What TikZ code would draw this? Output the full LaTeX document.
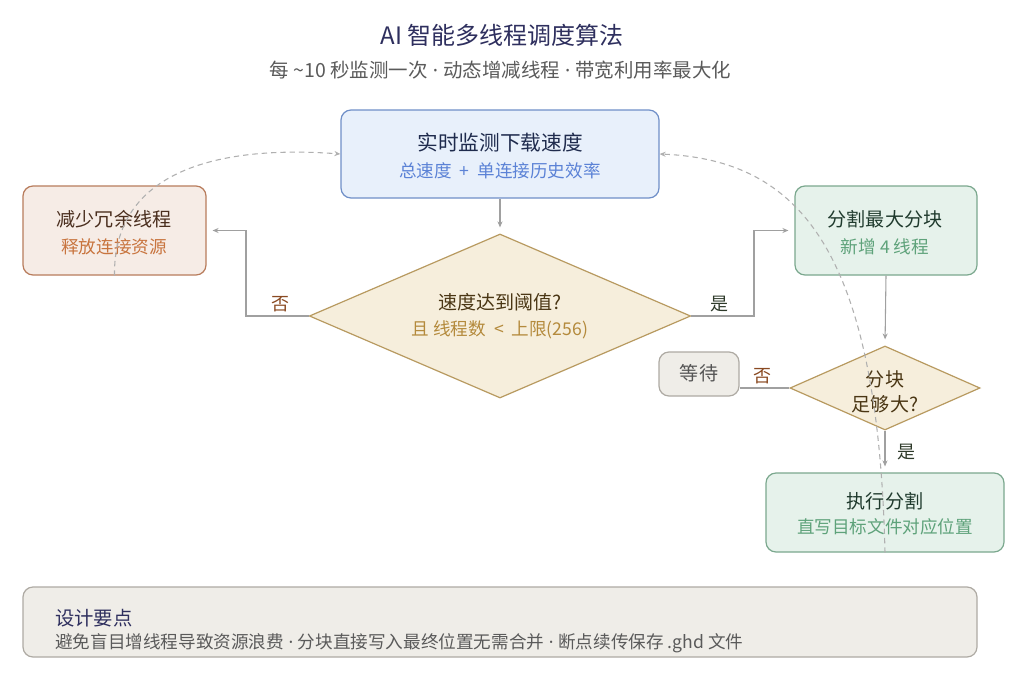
\documentclass[tikz,border=0pt]{standalone}
\usepackage{fontspec}
\setmainfont{Noto Sans CJK SC}
\newfontfamily\latf{Noto Sans}
\usetikzlibrary{arrows.meta,shapes.geometric}
\definecolor{navy}{HTML}{2E2F5E}
\definecolor{subg}{HTML}{5A5A5A}
\definecolor{monF}{HTML}{E8F0FB}\definecolor{monD}{HTML}{6F8FC8}\definecolor{monT}{HTML}{1F2B4D}\definecolor{monS}{HTML}{5B82D6}
\definecolor{redF}{HTML}{F6ECE6}\definecolor{redD}{HTML}{B87C5C}\definecolor{redT}{HTML}{4A2E1E}\definecolor{redS}{HTML}{C8743E}
\definecolor{grnF}{HTML}{E6F2EB}\definecolor{grnD}{HTML}{7BA88E}\definecolor{grnT}{HTML}{1F3A2D}\definecolor{grnS}{HTML}{5EA27A}
\definecolor{diaF}{HTML}{F6EEDC}\definecolor{diaD}{HTML}{B89A60}\definecolor{diaT}{HTML}{4A3614}\definecolor{diaS}{HTML}{B48A3C}
\definecolor{waiF}{HTML}{EFEDE8}\definecolor{waiD}{HTML}{AEAAA3}\definecolor{waiT}{HTML}{555555}
\definecolor{linG}{HTML}{A0A0A0}\definecolor{dshG}{HTML}{B0B0B0}
\definecolor{noC}{HTML}{8A4A22}\definecolor{yesC}{HTML}{2E3A2A}
\newcommand{\fttl}{\fontsize{14.3}{17}\selectfont}
\newcommand{\fsub}{\fontsize{13.2}{16}\selectfont}
\newcommand{\mdot}{{\latf\ ·\ }}
\newcommand{\wsp}{\hspace{0.45em}}
\begin{document}
\begin{tikzpicture}[x=0.75pt,y=-0.75pt,
  box/.style={draw, rounded corners=7.5pt, line width=0.9pt, inner sep=0pt},
  dia/.style={diamond, draw, line width=0.9pt, inner sep=0pt},
  conn/.style={draw=linG, line width=0.8pt, -{Stealth[length=4.5pt,width=3.8pt]}, shorten >=4.5pt},
  plain/.style={draw=linG, line width=0.8pt},
  dsh/.style={draw=dshG, line width=0.8pt, dash pattern=on 4pt off 3pt, -{Stealth[length=4.5pt,width=3.8pt]}},
  lbl/.style={inner sep=0pt, anchor=center}]
\useasboundingbox[fill=white] (0,0) rectangle (1024,682);
% title
\node[lbl, text=navy] (title) at (502,35) {\fontsize{18}{22}\selectfont AI 智能多线程调度算法};
\node[lbl, text=subg] (subtitle) at (500.5,70) {\fontsize{14.6}{17}\selectfont 每 \textasciitilde10 秒监测一次\mdot{}动态增减线程\mdot{}带宽利用率最大化};
% boxes
\node[box, fill=monF, draw=monD, minimum width=238.5pt, minimum height=66pt] (mon) at (500,154) {};
\node[box, fill=redF, draw=redD, minimum width=137.25pt, minimum height=66.75pt] (red) at (114.5,230.5) {};
\node[box, fill=grnF, draw=grnD, minimum width=136.5pt, minimum height=66.75pt] (spl) at (886,230.5) {};
\node[dia, fill=diaF, draw=diaD, minimum width=286pt, minimum height=123pt] (d1) at (500,316) {};
\node[dia, fill=diaF, draw=diaD, minimum width=142.5pt, minimum height=63pt] (d2) at (885,388) {};
\node[box, fill=waiF, draw=waiD, minimum width=60pt, minimum height=33pt] (wai) at (699,374) {};
\node[box, fill=grnF, draw=grnD, minimum width=178.5pt, minimum height=59.25pt] (exe) at (885,512.5) {};
\node[box, fill=waiF, draw=waiD, minimum width=715.5pt, minimum height=52.5pt] (note) at (500,622) {};
% texts
\node[lbl, text=monT] (monA) at (500,143) {\fontsize{15.5}{18}\selectfont 实时监测下载速度};
\node[lbl, text=monS] (monB) at (500,171) {\fsub 总速度{\wsp}+{\wsp}单连接历史效率};
\node[lbl, text=redT] (redA) at (114,219) {\fttl 减少冗余线程};
\node[lbl, text=redS] (redB) at (114,247) {\fsub 释放连接资源};
\node[lbl, text=grnT] (splA) at (885,219) {\fttl 分割最大分块};
\node[lbl, text=grnS] (splB) at (885,247) {\fsub 新增 4 线程};
\node[lbl, text=diaT] (d1A) at (500,302) {\fttl 速度达到阈值?};
\node[lbl, text=diaS] (d1B) at (500,330) {\fsub 且 线程数{\wsp}<{\wsp}上限(256)};
\node[lbl, text=diaT] (d2A) at (885,379) {\fttl 分块};
\node[lbl, text=diaT] (d2B) at (885,404) {\fttl 足够大?};
\node[lbl, text=waiT] (waiA) at (699,373) {\fttl 等待};
\node[lbl, text=grnT] (exeA) at (885,501) {\fttl 执行分割};
\node[lbl, text=grnS] (exeB) at (885,527) {\fsub 直写目标文件对应位置};
\node[lbl, anchor=west, text=navy] (noteA) at (55,618) {\fontsize{14.5}{17}\selectfont 设计要点};
\node[lbl, anchor=west, text=subg] (noteB) at (55,643) {\fsub 避免盲目增线程导致资源浪费\mdot{}分块直接写入最终位置无需合并\mdot{}断点续传保存 .ghd 文件};
% connectors
\draw[conn] (mon.south) -- (d1.north);
\coordinate (nL) at (246,316);
\draw[conn] (d1.west) -- (nL) |- (red.east);
\coordinate (yR) at (754,316);
\draw[conn] (d1.east) -- (yR) |- (spl.west);
\draw[conn] (spl.south) -- (d2.north);
\draw[plain] (d2.west) -- (d2.west -| wai.east);
\draw[conn] (d2.south) -- (exe.north);
\node[lbl, text=noC] (noL) at (280,304) {\fontsize{13.5}{16}\selectfont 否};
\node[lbl, text=yesC] (yesL) at (719,304) {\fontsize{13.5}{16}\selectfont 是};
\node[lbl, text=noC] (noW) at (762,376) {\fontsize{13.5}{16}\selectfont 否};
\node[lbl, text=yesC] (yesD) at (906,452) {\fontsize{13.5}{16}\selectfont 是};
% dashed feedback loops
\draw[dsh] (red.south) .. controls (113,170) and (220,145) .. (mon.west);
\draw[dsh] (exe.south) .. controls (878,250) and (800,160) .. (mon.east);
\end{tikzpicture}
\end{document}
